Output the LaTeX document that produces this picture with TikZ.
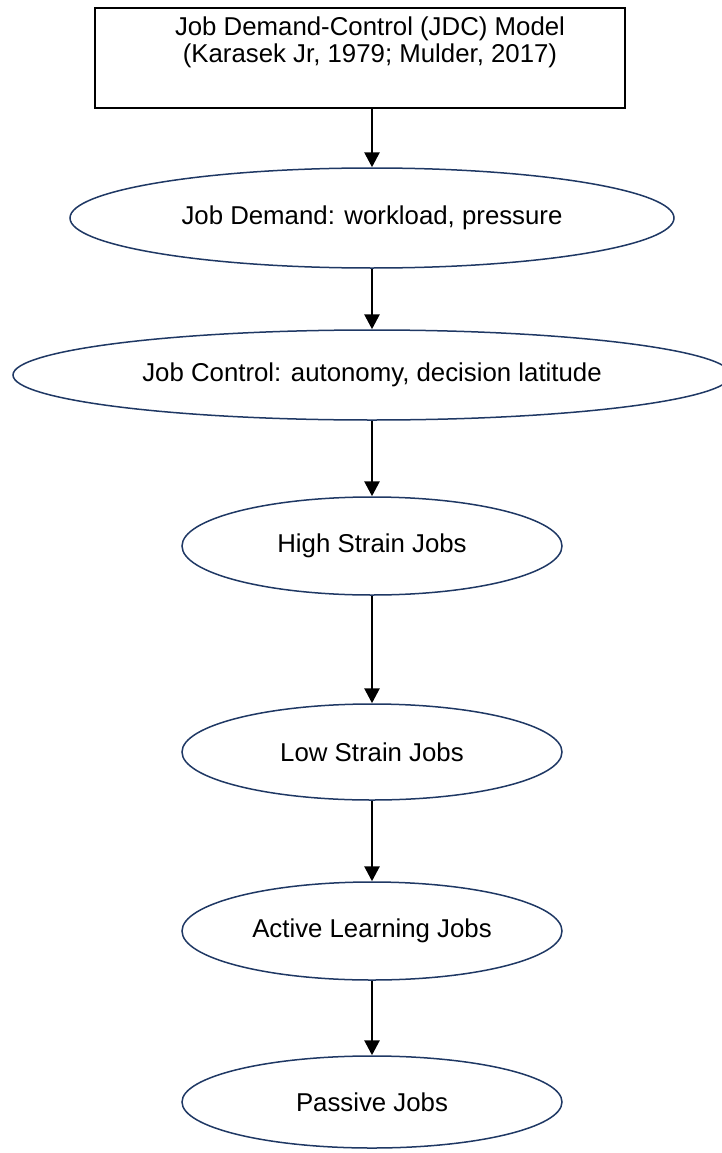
\documentclass[tikz,border=0pt]{standalone}
\usepackage{fontspec}
\setmainfont{Liberation Sans}
\usetikzlibrary{shapes.geometric,arrows.meta}
\definecolor{edgeblue}{RGB}{31,56,100}
\tikzset{
  titlebox/.style={draw=black,line width=2.2pt,minimum width=#1,minimum height=100pt,inner sep=0pt},
  oval/.style 2 args={ellipse,draw=edgeblue,line width=1.5pt,minimum width=#1,minimum height=#2,inner sep=0pt},
  flow/.style={draw=black,line width=2.8pt,-{Triangle[width=15pt,length=15pt]}},
  lbl/.style={font=\fontsize{25.8}{27}\selectfont,align=center}
}
\begin{document}
\begin{tikzpicture}[x=1pt,y=-1pt]
\useasboundingbox (0,0) rectangle (721,1153);
% title box with its two-line caption set near the top
\node[titlebox=530pt] (jdc) at (360,58) {};
\node[lbl] (jdctext) at (370,42) {Job Demand-Control (JDC) Model\\(Karasek Jr, 1979; Mulder, 2017)};
% model dimensions and job types
\node[oval={604pt}{100pt},lbl] (demand) at (372,218) {Job Demand: workload, pressure};
\node[oval={718pt}{90pt},lbl] (control) at (372,375) {Job Control: autonomy, decision latitude};
\node[oval={380pt}{98pt},lbl] (high) at (372,546) {High Strain Jobs};
\node[oval={380pt}{96pt},lbl] (low) at (372,752) {Low Strain Jobs};
\node[oval={380pt}{98pt},lbl] (active) at (372,931) {Active Learning Jobs};
\node[oval={380pt}{92pt},lbl] (passive) at (372,1102) {Passive Jobs};
% connectors
\draw[flow] (jdc.south -| demand.north) -- (demand.north);
\draw[flow] (demand.south) -- (control.north);
\draw[flow] (control.south) -- (high.north);
\draw[flow] (high.south) -- (low.north);
\draw[flow] (low.south) -- (active.north);
\draw[flow] (active.south) -- (passive.north);
\end{tikzpicture}
\end{document}
